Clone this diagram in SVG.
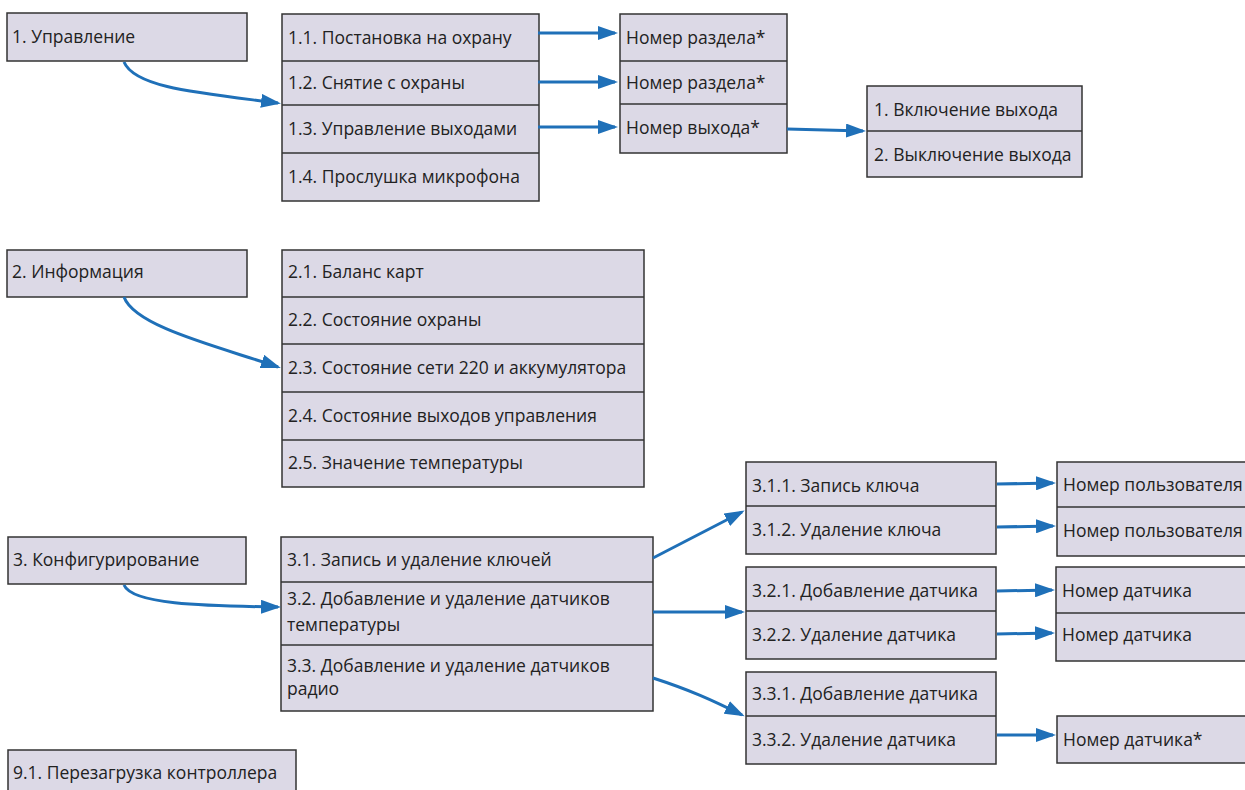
<svg xmlns="http://www.w3.org/2000/svg" width="1245" height="790" viewBox="0 0 1245 790">
<style>
.b{fill:#dcd9e6;stroke:#333;stroke-width:1.5}
.d{stroke:#333;stroke-width:1.5}
text{font-family:"Open Sans","Liberation Sans",sans-serif;font-size:17.5px;fill:#222}
.c{fill:none;stroke:#1f70b8;stroke-width:3}
</style>
<defs>
<marker id="ah" viewBox="0 0 20 14" refX="17" refY="7" markerWidth="20" markerHeight="14" markerUnits="userSpaceOnUse" orient="auto">
<path d="M0,0 L20,7 L0,14 z" fill="#1f70b8"/>
</marker>
</defs>
<rect width="1245" height="790" fill="#fff"/>

<g id="n1">
<rect class="b" x="7" y="13" width="240" height="48"/>
<text x="12" y="43">1. Управление</text>
</g>
<g id="n1x">
<rect class="b" x="282" y="14" width="257" height="187"/>
<line class="d" x1="282" y1="61" x2="539" y2="61"/>
<line class="d" x1="282" y1="105" x2="539" y2="105"/>
<line class="d" x1="282" y1="153" x2="539" y2="153"/>
<text x="288" y="44">1.1. Постановка на охрану</text>
<text x="288" y="89">1.2. Снятие с охраны</text>
<text x="288" y="135">1.3. Управление выходами</text>
<text x="288" y="183">1.4. Прослушка микрофона</text>
</g>
<g id="n1num">
<rect class="b" x="620" y="14" width="167" height="139"/>
<line class="d" x1="620" y1="61" x2="787" y2="61"/>
<line class="d" x1="620" y1="104" x2="787" y2="104"/>
<text x="626" y="44">Номер раздела*</text>
<text x="626" y="89">Номер раздела*</text>
<text x="626" y="134">Номер выхода*</text>
</g>
<g id="n1out">
<rect class="b" x="867" y="86" width="215" height="91"/>
<line class="d" x1="867" y1="131" x2="1082" y2="131"/>
<text x="874" y="116">1. Включение выхода</text>
<text x="874" y="161">2. Выключение выхода</text>
</g>

<g id="n2">
<rect class="b" x="7" y="250" width="240" height="47"/>
<text x="12" y="278">2. Информация</text>
</g>
<g id="n2x">
<rect class="b" x="282" y="250" width="362" height="237"/>
<line class="d" x1="282" y1="297" x2="644" y2="297"/>
<line class="d" x1="282" y1="344" x2="644" y2="344"/>
<line class="d" x1="282" y1="392" x2="644" y2="392"/>
<line class="d" x1="282" y1="440" x2="644" y2="440"/>
<text x="288" y="278">2.1. Баланс карт</text>
<text x="288" y="326">2.2. Состояние охраны</text>
<text x="288" y="374">2.3. Состояние сети 220 и аккумулятора</text>
<text x="288" y="422">2.4. Состояние выходов управления</text>
<text x="288" y="469">2.5. Значение температуры</text>
</g>

<g id="n3">
<rect class="b" x="8" y="537" width="238" height="47"/>
<text x="13" y="566">3. Конфигурирование</text>
</g>
<g id="n3x">
<rect class="b" x="281" y="537" width="372" height="174"/>
<line class="d" x1="281" y1="582" x2="653" y2="582"/>
<line class="d" x1="281" y1="645" x2="653" y2="645"/>
<text x="287" y="566">3.1. Запись и удаление ключей</text>
<text x="287" y="605">3.2. Добавление и удаление датчиков</text>
<text x="287" y="631">температуры</text>
<text x="287" y="672">3.3. Добавление и удаление датчиков</text>
<text x="287" y="695">радио</text>
</g>
<g id="n31">
<rect class="b" x="746" y="462" width="250" height="92"/>
<line class="d" x1="746" y1="506" x2="996" y2="506"/>
<text x="752" y="492">3.1.1. Запись ключа</text>
<text x="752" y="536">3.1.2. Удаление ключа</text>
</g>
<g id="n32">
<rect class="b" x="746" y="567" width="250" height="92"/>
<line class="d" x1="746" y1="611" x2="996" y2="611"/>
<text x="752" y="597">3.2.1. Добавление датчика</text>
<text x="752" y="641">3.2.2. Удаление датчика</text>
</g>
<g id="n33">
<rect class="b" x="746" y="672" width="250" height="92"/>
<line class="d" x1="746" y1="716" x2="996" y2="716"/>
<text x="752" y="700">3.3.1. Добавление датчика</text>
<text x="752" y="746">3.3.2. Удаление датчика</text>
</g>
<g id="n31num">
<rect class="b" x="1057" y="462" width="200" height="94"/>
<line class="d" x1="1057" y1="507" x2="1257" y2="507"/>
<text x="1063" y="491">Номер пользователя</text>
<text x="1063" y="537">Номер пользователя</text>
</g>
<g id="n32num">
<rect class="b" x="1056" y="567" width="200" height="94"/>
<line class="d" x1="1056" y1="613" x2="1256" y2="613"/>
<text x="1062" y="597">Номер датчика</text>
<text x="1062" y="641">Номер датчика</text>
</g>
<g id="n33num">
<rect class="b" x="1057" y="716" width="200" height="47"/>
<text x="1063" y="746">Номер датчика*</text>
</g>

<g id="n9">
<rect class="b" x="8" y="750" width="288" height="60"/>
<text x="13" y="779">9.1. Перезагрузка контроллера</text>
</g>

<g id="connectors">
<path class="c" marker-end="url(#ah)" d="M124,62 C135,88 200,93 278,103"/>
<path class="c" marker-end="url(#ah)" d="M538,33 L615,33"/>
<path class="c" marker-end="url(#ah)" d="M538,82 L615,82"/>
<path class="c" marker-end="url(#ah)" d="M538,127 L615,127"/>
<path class="c" marker-end="url(#ah)" d="M787,129 L863,131"/>
<path class="c" marker-end="url(#ah)" d="M124,297 C135,327 220,347 278,367"/>
<path class="c" marker-end="url(#ah)" d="M124,585 C132,604 200,606 278,607"/>
<path class="c" marker-end="url(#ah)" d="M653,558 L742,512"/>
<path class="c" marker-end="url(#ah)" d="M653,612 L742,612"/>
<path class="c" marker-end="url(#ah)" d="M653,678 C690,690 712,700 742,715"/>
<path class="c" marker-end="url(#ah)" d="M997,484 L1053,483"/>
<path class="c" marker-end="url(#ah)" d="M997,527 L1053,526"/>
<path class="c" marker-end="url(#ah)" d="M997,591 L1052,590"/>
<path class="c" marker-end="url(#ah)" d="M997,634 L1052,633"/>
<path class="c" marker-end="url(#ah)" d="M997,735 L1053,735"/>
</g>
</svg>
